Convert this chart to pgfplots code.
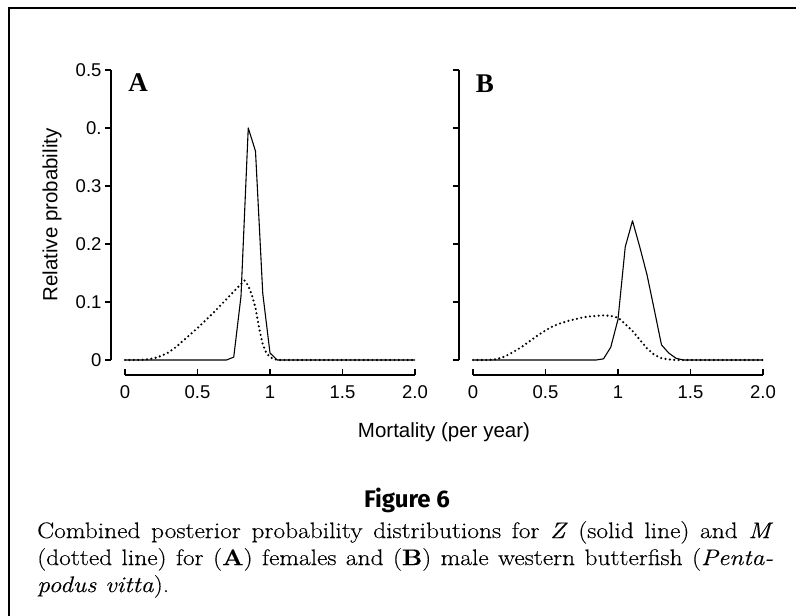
\documentclass[border=0pt]{standalone}
\usepackage{pgfplots}
\pgfplotsset{compat=1.18}
\usepackage{fontspec}
\newfontfamily\helv{Liberation Sans}
\newfontfamily\tnr{Liberation Serif}
\newfontfamily\figfont{Fira Sans}
\newfontfamily\capfont[FakeStretch=1.13, FakeBold=0.3]{Latin Modern Roman}

% panel A: females
\pgfplotstableread{
x y
0 0
0.70 0
0.75 0.005
0.80 0.11
0.85 0.40
0.90 0.36
0.95 0.115
1.00 0.012
1.05 0
2.00 0
}\femZ
\pgfplotstableread{
x y
0 0
0.10 0
0.15 0.001
0.20 0.003
0.25 0.007
0.30 0.013
0.35 0.022
0.40 0.033
0.45 0.044
0.50 0.055
0.55 0.067
0.60 0.079
0.65 0.092
0.70 0.105
0.75 0.118
0.80 0.131
0.825 0.137
0.85 0.128
0.875 0.112
0.90 0.090
0.925 0.055
0.95 0.027
0.975 0.012
1.00 0.005
1.025 0.002
1.05 0
2.00 0
}\femM
% panel B: males
\pgfplotstableread{
x y
0 0
0.85 0
0.90 0.002
0.95 0.022
1.00 0.070
1.05 0.195
1.10 0.240
1.15 0.195
1.20 0.147
1.25 0.087
1.30 0.026
1.35 0.012
1.40 0.003
1.45 0
2.00 0
}\malZ
\pgfplotstableread{
x y
0 0
0.10 0
0.15 0.001
0.20 0.004
0.25 0.010
0.30 0.017
0.35 0.025
0.40 0.034
0.45 0.043
0.50 0.051
0.55 0.058
0.60 0.063
0.65 0.067
0.70 0.070
0.75 0.073
0.80 0.075
0.85 0.076
0.90 0.077
0.95 0.076
1.00 0.073
1.05 0.062
1.10 0.050
1.15 0.035
1.20 0.020
1.25 0.009
1.30 0.003
1.35 0.001
1.40 0
2.00 0
}\malM

\pgfplotsset{
  panel/.style={
    scale only axis, width=304pt, height=305pt,
    anchor=south west,
    xmin=-0.09655, xmax=2, ymin=-0.02586, ymax=0.5,
    axis x line*=bottom, axis y line*=left,
    axis line style={draw=none},
    clip=false,
    xtick={0,0.5,1,1.5,2}, xticklabels={0,0.5,1,1.5,2.0},
    ytick={0,0.1,0.2,0.3,0.4,0.5},
    xtick align=inside, ytick align=outside,
    major tick length=6pt,
    tick style={line width=1.5pt, black},
    /pgf/number format/assume math mode=true,
    ticklabel style={font=\helv\fontsize{18.5}{20}\selectfont},
    xticklabel style={yshift=-7pt},
  },
  zline/.style={black, line width=1.1pt, line join=round},
  mline/.style={black, line width=2.4pt, line cap=round, dash pattern=on 0pt off 4.4pt},
}

\begin{document}
\begin{tikzpicture}
\useasboundingbox (0,0) rectangle (796pt,616pt);
% frame
\draw[line width=2pt] (8.5pt,0) -- (8.5pt,607.5pt) -- (796pt,607.5pt);

\begin{axis}[panel, at={(111pt,241pt)},
  yticklabels={0,0.1,0.2,0.3,0.,0.5}]
\addplot[zline] table {\femZ};
\addplot[mline] table {\femM};
\draw[line width=1.6pt] (axis cs:-0.09655,0) -- (axis cs:-0.09655,0.5);
\draw[line width=1.6pt] (axis cs:0,-0.02586) -- (axis cs:2,-0.02586);
\end{axis}

\begin{axis}[panel, at={(459pt,241pt)}, yticklabels={}]
\addplot[zline] table {\malZ};
\addplot[mline] table {\malM};
\draw[line width=1.6pt] (axis cs:-0.09655,0) -- (axis cs:-0.09655,0.5);
\draw[line width=1.6pt] (axis cs:0,-0.02586) -- (axis cs:2,-0.02586);
\end{axis}

\node[font=\tnr\bfseries\fontsize{27}{27}\selectfont] at (138pt,533pt) {A};
\node[font=\tnr\bfseries\fontsize{27}{27}\selectfont] at (485pt,532pt) {B};

\node[rotate=90, font=\helv\fontsize{20.5}{22}\selectfont] at (52pt,401pt) {Relative probability};
\node[font=\helv\fontsize{20.5}{22}\selectfont] at (444pt,184pt) {Mortality (per year)};

\node[anchor=base, font=\figfont\bfseries\fontsize{24}{26}\selectfont] at (407pt,108pt) {Figure 6};

\node[anchor=north west, inner sep=0pt, text width=736pt, align=justify,
      font=\capfont\fontsize{22.5}{27}\selectfont] at (37pt,95pt)
  {Combined posterior probability distributions for \textit{Z} (solid line) and \textit{M}\linebreak
   (dotted line) for (\textbf{A}) females and (\textbf{B}) male western butterfish (\textit{Penta-}\linebreak
   \textit{podus vitta}).};
\end{tikzpicture}
\end{document}
